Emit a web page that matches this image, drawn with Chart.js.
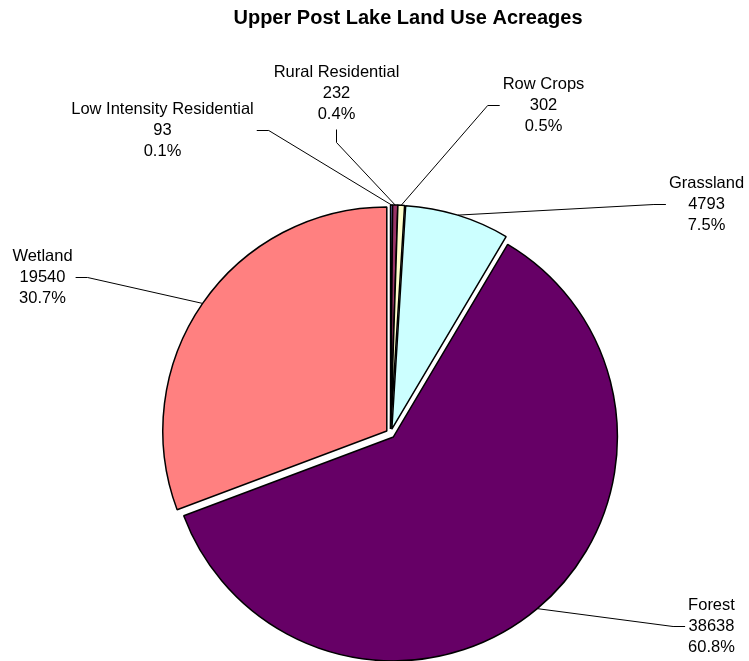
<!DOCTYPE html>
<html>
<head>
<meta charset="utf-8">
<title>Upper Post Lake Land Use Acreages</title>
<script src="https://cdn.jsdelivr.net/npm/chart.js@4.4.1/dist/chart.umd.min.js"></script>
<style>
  html, body { margin: 0; padding: 0; background: #fff; }
  #wrap { width: 749px; height: 661px; }
</style>
</head>
<body>
<div id="wrap"><canvas id="landUse" width="749" height="661"></canvas></div>
<script>
// Land use categories and acreages (slices run clockwise from 12 o'clock)
const categories = ['Low Intensity Residential', 'Rural Residential', 'Row Crops', 'Grassland', 'Forest', 'Wetland'];
const acres = [93, 232, 302, 4793, 38638, 19540];

// Excel-style default pie fills
const sliceColors = ['#9999FF', '#993366', '#FFFFCC', '#CCFFFF', '#660066', '#FF8080'];

// Where each data label sits, relative to the pie centre (px)
const labelOffsets = [[-228, -303], [-54, -340], [153, -328], [316, -229], [321, 193], [-348, -156]];

const EXPLODE = 4.5;
const LABEL_FONT = '16.5px "Liberation Sans", Arial, sans-serif';
const LINE_H = 21;

// Push every slice out along its bisector (Excel "explode")
const explodePlugin = {
    id: 'explode',
    afterDatasetUpdate(chart, args) {
        const meta = chart.getDatasetMeta(args.index);
        meta.data.forEach(arc => {
            if (arc._exploded) return;
            const baseDraw = arc.draw;
            arc._exploded = true;
            arc.draw = function (ctx) {
                const mid = (this.startAngle + this.endAngle) / 2;
                ctx.save();
                ctx.translate(Math.cos(mid) * EXPLODE, Math.sin(mid) * EXPLODE);
                baseDraw.call(this, ctx);
                ctx.restore();
            };
        });
    }
};

// Data labels with leader lines, plus the title
const labelPlugin = {
    id: 'leaderLabels',
    afterDatasetsDraw(chart) {
        const ctx = chart.ctx;
        const meta = chart.getDatasetMeta(0);
        const total = acres.reduce((a, b) => a + b, 0);

        ctx.save();
        ctx.fillStyle = '#000';
        ctx.strokeStyle = '#000';
        ctx.lineWidth = 1;
        ctx.textAlign = 'center';
        ctx.textBaseline = 'middle';

        ctx.font = 'bold 20px "Liberation Sans", Arial, sans-serif';
        ctx.fillText('Upper Post Lake Land Use Acreages', 408, 18);

        ctx.font = LABEL_FONT;
        meta.data.forEach((arc, i) => {
            const mid = (arc.startAngle + arc.endAngle) / 2;
            const r = arc.outerRadius + EXPLODE;
            const ex = arc.x + Math.cos(mid) * r;
            const ey = arc.y + Math.sin(mid) * r;
            const lx = arc.x + labelOffsets[i][0];
            const ly = arc.y + labelOffsets[i][1];

            const lines = [categories[i], String(acres[i]), (acres[i] / total * 100).toFixed(1) + '%'];
            const w = Math.max(...lines.map(t => ctx.measureText(t).width));
            lines.forEach((t, k) => ctx.fillText(t, lx, ly + (k - 1) * LINE_H));

            const dx = ex - lx, dy = ey - ly;
            let pts;
            if (Math.abs(dx) < Math.abs(dy) * 0.7) {
                const y0 = ly + LINE_H + 15;
                pts = [[lx, y0], [lx, y0 + 13], [ex, ey]];
            } else {
                const side = dx > 0 ? 1 : -1;
                const x0 = lx + side * (w / 2 + 3);
                pts = [[x0, ly], [x0 + side * 12, ly], [ex, ey]];
            }
            ctx.beginPath();
            ctx.moveTo(pts[0][0], pts[0][1]);
            pts.slice(1).forEach(p => ctx.lineTo(p[0], p[1]));
            ctx.stroke();
        });
        ctx.restore();
    }
};

new Chart(document.getElementById('landUse'), {
    type: 'pie',
    data: {
        labels: categories,
        datasets: [{
            data: acres,
            backgroundColor: sliceColors,
            borderColor: '#000',
            borderWidth: 1.5,
            radius: 224
        }]
    },
    options: {
        responsive: false,
        animation: false,
        events: [],
        layout: {
            padding: { left: 32, right: 0, top: 206, bottom: 0 }
        },
        plugins: {
            legend: { display: false },
            tooltip: { enabled: false }
        }
    },
    plugins: [explodePlugin, labelPlugin]
});
</script>
</body>
</html>
